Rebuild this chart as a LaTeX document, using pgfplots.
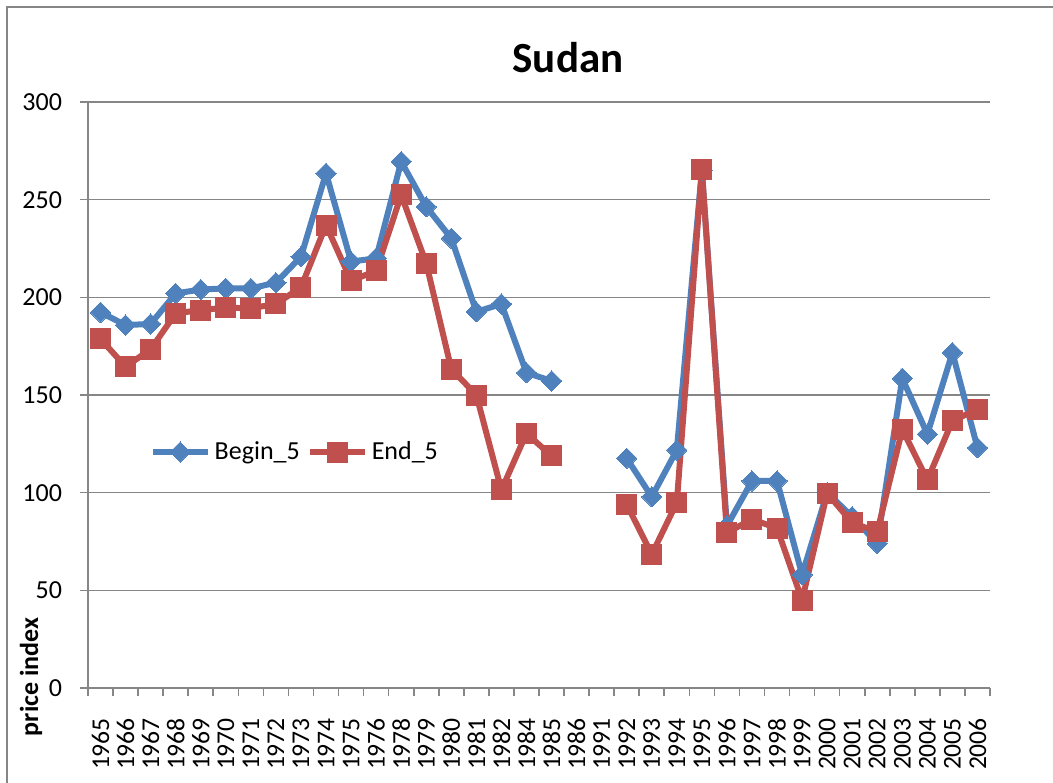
\documentclass[border=0pt]{standalone}
\usepackage{fontspec}
\setmainfont{Carlito}
\usepackage{pgfplots}
\pgfplotsset{compat=1.18}
\definecolor{sblue}{HTML}{4F81BD}
\definecolor{sred}{HTML}{C0504D}
\definecolor{sgray}{HTML}{868686}
\begin{document}
\begin{tikzpicture}
\useasboundingbox (0,0) rectangle (526.5pt,-391pt);
\draw[sgray, line width=1pt] (3.5pt,-395pt) -- (3.5pt,-3.3pt) -- (530pt,-3.3pt);
\begin{axis}[
  at={(44pt,-344pt)}, anchor=south west,
  scale only axis, width=451pt, height=293pt,
  xmin=-0.5, xmax=35.5, ymin=0, ymax=300,
  axis x line=bottom, axis y line=left,
  axis line style={sgray, line width=0.8pt, -},
  every tick/.style={sgray, line width=0.8pt},
  tick align=outside,
  xtick={0,...,35},
  xticklabels={1965,1966,1967,1968,1969,1970,1971,1972,1973,1974,1975,1976,1978,1979,1980,1981,1982,1984,1985,1986,1991,1992,1993,1994,1995,1996,1997,1998,1999,2000,2001,2002,2003,2004,2005,2006},
  major x tick style={draw=none},
  minor xtick={-0.5,0.5,...,35.5},
  minor tick length=4pt,
  major tick length=4pt,
  ytick={0,50,...,300},
  ymajorgrids, grid style={sgray, line width=0.8pt},
  xticklabel style={rotate=90, anchor=east, font=\fontsize{12.8}{14}\selectfont, xshift=-7.5pt},
  yticklabel style={font=\fontsize{13}{15}\selectfont, xshift=-5.5pt},
  /pgf/number format/assume math mode=true,
  unbounded coords=jump,
  clip=false,
  legend columns=2,
  legend style={at={(0.068,0.4027)}, anchor=west, draw=none, fill=none, inner sep=0pt,
    font=\fontsize{13}{15}\selectfont,
    /tikz/every even column/.append style={column sep=1.5pt},
    nodes={inner xsep=2pt}},
  legend image code/.code={\draw[mark repeat=2,mark phase=2] plot coordinates {(0pt,0pt) (13.75pt,0pt) (27.5pt,0pt)};},
]
\addplot[color=sblue, line width=3pt, mark=square*, mark size=3.6pt, mark options={rotate=45, fill=sblue, draw=sblue, line width=0pt}] coordinates {
(0,192.3) (1,185.8) (2,186.4) (3,202) (4,204) (5,204.6) (6,204.6) (7,207.5) (8,220.8) (9,263.5)
(10,218.3) (11,220) (12,269.5) (13,246.4) (14,230.2) (15,192.6) (16,196.6) (17,161.4) (18,157.2)
(19,nan) (20,nan)
(21,117.6) (22,97.9) (23,121.8) (24,265) (25,83) (26,106) (27,106) (28,58) (29,100) (30,87.7)
(31,74) (32,158.5) (33,130) (34,171.7) (35,123)
};
\addlegendentry{Begin\_5}
\addplot[color=sred, line width=3pt, mark=square*, mark size=5pt, mark options={fill=sred, draw=sred, line width=0pt}] coordinates {
(0,178.7) (1,164.5) (2,173.4) (3,191.8) (4,193.5) (5,194.7) (6,194.4) (7,196.6) (8,205.1) (9,237)
(10,208.5) (11,213.6) (12,252.4) (13,217.4) (14,163.3) (15,150) (16,101.4) (17,130.4) (18,118.8)
(19,nan) (20,nan)
(21,94) (22,68.4) (23,94.9) (24,265.5) (25,79.5) (26,86.4) (27,81.8) (28,45) (29,99.7) (30,84.6)
(31,80) (32,132.4) (33,106.5) (34,136.8) (35,142.7)
};
\addlegendentry{End\_5}
\end{axis}
\node[font=\fontsize{21.5}{25}\selectfont\bfseries] at (284pt,-28.75pt) {Sudan};
\node[rotate=90, font=\fontsize{13}{15}\selectfont\bfseries] at (15.5pt,-338.5pt) {price index};
\end{tikzpicture}
\end{document}
